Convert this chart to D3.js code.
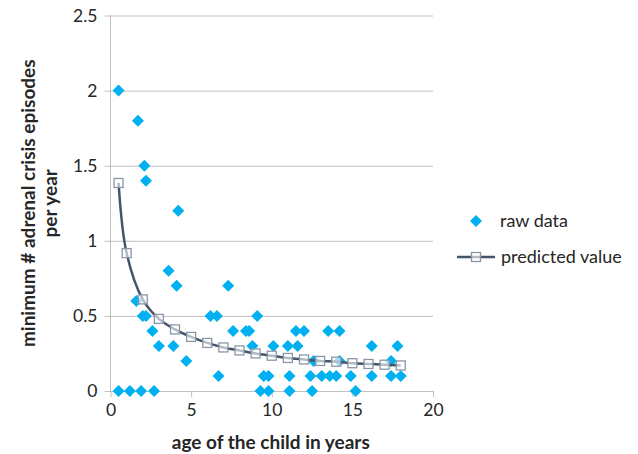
<!DOCTYPE html>
<meta charset="utf-8">
<head>
    <title>Adrenal crisis episodes by age</title>
</head>
<style>
    body { margin: 0; background: #fff; }
    text { font-family: Lato, "Open Sans", sans-serif; fill: #262626; }
</style>
<div id="chart_div"></div>
<script src="https://d3js.org/d3.v7.min.js"></script>
<script>
    // raw data: age of the child (years) and episodes per year
    var rawAge = [0.5, 1.7, 2.1, 2.2, 4.2, 3.6, 4.1, 1.6, 2.0, 2.2, 2.6, 3.0, 3.9, 4.7,
        0.5, 1.2, 1.9, 2.7, 6.2, 6.6, 7.3, 7.6, 8.4, 8.6, 8.8, 9.1, 6.7, 9.5, 9.8,
        9.3, 9.8, 10.1, 11.0, 11.6, 11.5, 12.0, 11.1, 11.1, 12.6, 12.4, 12.5,
        13.1, 13.6, 14.0, 13.5, 14.2, 14.2, 14.9, 15.2, 16.2, 16.2, 17.8, 17.4, 17.4, 18.0];
    var rawEpisodes = [2.0, 1.8, 1.5, 1.4, 1.2, 0.8, 0.7, 0.6, 0.5, 0.5, 0.4, 0.3, 0.3, 0.2,
        0, 0, 0, 0, 0.5, 0.5, 0.7, 0.4, 0.4, 0.4, 0.3, 0.5, 0.1, 0.1, 0.1,
        0, 0, 0.3, 0.3, 0.3, 0.4, 0.4, 0.1, 0, 0.2, 0.1, 0,
        0.1, 0.1, 0.1, 0.4, 0.4, 0.2, 0.1, 0, 0.3, 0.1, 0.3, 0.2, 0.1, 0.1];

    // predicted value series
    var predAge = [0.5, 1, 2, 3, 4, 5, 6, 7, 8, 9, 10, 11, 12, 13, 14, 15, 16, 17, 18];
    var predValue = [1.385, 0.918, 0.61, 0.48, 0.41, 0.36, 0.32, 0.29, 0.27, 0.25,
        0.235, 0.22, 0.21, 0.2, 0.195, 0.185, 0.18, 0.175, 0.17];

    var xTicks = [0, 5, 10, 15, 20];
    var yTicks = [0, 0.5, 1, 1.5, 2, 2.5];
    var legendLabels = ["raw data", "predicted value"];

    var W = 638, H = 454;
    var margin = {top: 15.5, right: 205, bottom: 63, left: 110.5};
    var width = W - margin.left - margin.right,
        height = H - margin.top - margin.bottom;

    var svg = d3.select("#chart_div")
      .append("svg")
        .attr("width", W)
        .attr("height", H);
    var g = svg.append("g")
        .attr("transform", "translate(" + margin.left + "," + margin.top + ")");

    var x = d3.scaleLinear().domain([0, 20]).range([0, width]);
    var y = d3.scaleLinear().domain([0, 2.5]).range([height, 0]);

    // horizontal gridlines + y axis
    var yAxis = g.append("g")
        .call(d3.axisLeft(y).tickValues(yTicks).tickSize(-width).tickSizeOuter(0)
            .tickFormat(function(d) { return d; }));
    yAxis.select(".domain").remove();
    yAxis.selectAll(".tick line").attr("stroke", "#c0c0c0").attr("x1", -6);
    yAxis.selectAll(".tick text").attr("x", -13).attr("font-size", 17.5)
        .attr("font-family", "Lato, sans-serif").attr("fill", "#262626");

    g.append("line")
        .attr("x1", 0).attr("x2", 0).attr("y1", 0).attr("y2", height)
        .attr("stroke", "#c0c0c0");

    var xAxis = g.append("g")
        .attr("transform", "translate(0," + height + ")")
        .call(d3.axisBottom(x).tickValues(xTicks).tickSize(6).tickSizeOuter(0));
    xAxis.select(".domain").attr("stroke", "#c0c0c0");
    xAxis.selectAll(".tick line").attr("stroke", "#c0c0c0");
    xAxis.selectAll(".tick text").attr("y", 13).attr("font-size", 17.5)
        .attr("font-family", "Lato, sans-serif").attr("fill", "#262626");

    // axis titles
    svg.append("text")
        .attr("x", margin.left + width / 2 - 1)
        .attr("y", 449)
        .attr("text-anchor", "middle")
        .attr("font-size", 19)
        .attr("font-weight", "bold")
        .text("age of the child in years");

    var yTitle = svg.append("text")
        .attr("transform", "translate(35," + (margin.top + height / 2) + ") rotate(-90)")
        .attr("text-anchor", "middle")
        .attr("font-size", 19)
        .attr("font-weight", "bold");
    yTitle.append("tspan").attr("x", 0).attr("dy", 0).text("minimum # adrenal crisis episodes");
    yTitle.append("tspan").attr("x", 0).attr("dy", 22).text("per year");

    // raw data diamonds
    var diamond = d3.symbol().type(d3.symbolSquare).size(72);
    var raw = rawAge.map(function(a, i) { return {age: a, v: rawEpisodes[i]}; });
    g.selectAll(".raw")
        .data(raw)
      .enter()
      .append("path")
        .attr("class", "raw")
        .attr("d", diamond)
        .attr("transform", function(d) { return "translate(" + x(d.age) + "," + y(d.v) + ") rotate(45)"; })
        .attr("fill", "#00b0f0");

    // predicted value line + squares
    var pred = predAge.map(function(a, i) { return {age: a, v: predValue[i]}; });
    var line = d3.line()
        .x(function(d) { return x(d.age); })
        .y(function(d) { return y(d.v); })
        .curve(d3.curveCatmullRom);
    g.append("path")
        .datum(pred)
        .attr("d", line)
        .attr("fill", "none")
        .attr("stroke", "#44546a")
        .attr("stroke-width", 2.5);
    g.selectAll(".pred")
        .data(pred)
      .enter()
      .append("rect")
        .attr("class", "pred")
        .attr("x", function(d) { return x(d.age) - 4.5; })
        .attr("y", function(d) { return y(d.v) - 4.5; })
        .attr("width", 9)
        .attr("height", 9)
        .attr("fill", "#fff")
        .attr("fill-opacity", 0.6)
        .attr("stroke", "#8a96a8")
        .attr("stroke-width", 1.3);

    // legend
    var legend = svg.append("g").attr("transform", "translate(476,221)");
    legend.append("path")
        .attr("d", diamond)
        .attr("transform", "rotate(45)")
        .attr("fill", "#00b0f0");
    legend.append("text").attr("x", 24).attr("y", 6).attr("font-size", 18).text(legendLabels[0]);
    legend.append("line")
        .attr("x1", -19).attr("x2", 19).attr("y1", 36).attr("y2", 36)
        .attr("stroke", "#44546a").attr("stroke-width", 2.5);
    legend.append("rect")
        .attr("x", -4.5).attr("y", 31.5).attr("width", 9).attr("height", 9)
        .attr("fill", "#fff").attr("fill-opacity", 0.6)
        .attr("stroke", "#8a96a8").attr("stroke-width", 1.3);
    legend.append("text").attr("x", 25).attr("y", 42).attr("font-size", 18).text(legendLabels[1]);
</script>
